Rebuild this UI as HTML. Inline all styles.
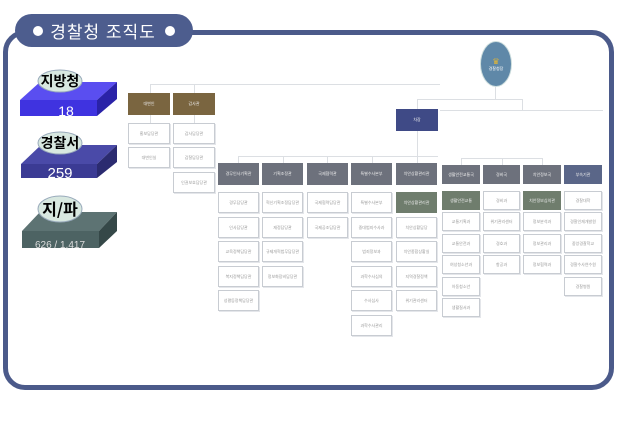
<!DOCTYPE html><html><head><meta charset="utf-8"><style>
body{margin:0;width:619px;height:424px;background:#fff;position:relative;overflow:hidden;font-family:"Liberation Sans","Noto Sans CJK KR",sans-serif}
.a{position:absolute;box-sizing:border-box}
.b{position:absolute;box-sizing:border-box;border:1px solid #c8ccd2;background:#fff;font-size:4px;color:#999;text-align:center;display:flex;align-items:center;justify-content:center;box-shadow:1px 1px 0 #e4e6ea}
.h{position:absolute;box-sizing:border-box;background:#6d717c;color:#eee;font-size:4px;display:flex;align-items:center;justify-content:center}
.l{position:absolute;background:#dcdfe3}
</style></head><body>
<div class="a" style="left:3px;top:30px;width:611px;height:360px;border:5px solid #4b5a8a;border-radius:22px"></div>
<div class="a" style="left:15px;top:14px;width:178px;height:33px;background:#4d5d8e;border-radius:17px;color:#fff;font-size:17px;display:flex;align-items:center;justify-content:center;letter-spacing:1px"><span style="display:inline-block;width:10px;height:10px;background:#fff;border-radius:50%;margin-right:7px"></span>경찰청 조직도<span style="display:inline-block;width:10px;height:10px;background:#fff;border-radius:50%;margin-left:9px"></span></div>
<svg class="a" style="left:0;top:0" width="130" height="260">
<polygon points="20,100 40,82 117,82 97,100" fill="#5a4ef0"/><rect x="20" y="100" width="77" height="16" fill="#3f33e0"/><polygon points="97,100 117,82 117,99 97,116" fill="#2a22a8"/>
<polygon points="21,164 41,145 117,145 97,164" fill="#4a4aa8"/><rect x="21" y="164" width="76" height="14" fill="#3b3b94"/><polygon points="97,164 117,145 117,162 97,178" fill="#2b2b70"/>
<polygon points="22,231 40,212 117,212 99,231" fill="#5d7373"/><rect x="22" y="231" width="77" height="17" fill="#4d6363"/><polygon points="99,231 117,212 117,231 99,248" fill="#354848"/>
<ellipse cx="60" cy="81" rx="22" ry="11" fill="#d8e8e0" stroke="#9ab" /><ellipse cx="60" cy="143" rx="22" ry="11" fill="#d8e8e0" stroke="#9ab"/><ellipse cx="60" cy="209" rx="22" ry="13" fill="#d8e8e0" stroke="#9ab"/>
<text x="60" y="86" font-size="14" font-weight="bold" text-anchor="middle" font-family="Noto Sans CJK KR,sans-serif">지방청</text>
<text x="60" y="148" font-size="14" font-weight="bold" text-anchor="middle" font-family="Noto Sans CJK KR,sans-serif">경찰서</text>
<text x="60" y="215" font-size="16" font-weight="bold" text-anchor="middle" font-family="Noto Sans CJK KR,sans-serif">지/파</text>
<text x="66" y="116" font-size="14" fill="#fff" text-anchor="middle" font-family="Liberation Sans">18</text>
<text x="60" y="178" font-size="15" fill="#fff" text-anchor="middle" font-family="Liberation Sans">259</text>
<text x="60" y="248" font-size="10" fill="#ddd" text-anchor="middle" font-family="Liberation Sans">626 / 1,417</text>
</svg>
<!-- lines -->
<div class="l" style="left:150px;top:84px;width:290px;height:1px"></div>
<div class="l" style="left:150px;top:84px;width:1px;height:9px"></div>
<div class="l" style="left:194px;top:84px;width:1px;height:9px"></div>
<div class="l" style="left:150px;top:115px;width:1px;height:8px"></div>
<div class="l" style="left:194px;top:115px;width:1px;height:8px"></div>
<div class="l" style="left:440px;top:110px;width:163px;height:1px"></div>
<div class="l" style="left:495px;top:86px;width:1px;height:13px"></div>
<div class="l" style="left:417px;top:99px;width:105px;height:1px"></div>
<div class="l" style="left:417px;top:99px;width:1px;height:10px"></div>
<div class="l" style="left:522px;top:99px;width:1px;height:11px"></div>
<div class="l" style="left:417px;top:131px;width:1px;height:32px"></div>
<div class="l" style="left:238px;top:156px;width:200px;height:1px"></div>
<div class="l" style="left:238px;top:156px;width:1px;height:7px"></div>
<div class="l" style="left:283px;top:156px;width:1px;height:7px"></div>
<div class="l" style="left:327px;top:156px;width:1px;height:7px"></div>
<div class="l" style="left:372px;top:156px;width:1px;height:7px"></div>
<div class="l" style="left:461px;top:158px;width:82px;height:1px"></div>
<div class="l" style="left:461px;top:158px;width:1px;height:7px"></div>
<div class="l" style="left:502px;top:158px;width:1px;height:7px"></div>
<div class="l" style="left:542px;top:158px;width:1px;height:7px"></div>
<!-- top -->
<div class="a" style="left:480px;top:41px;width:32px;height:46px;border-radius:50%;background:#5f88a8;border:1px solid #cdd;color:#fff;font-size:4px;display:flex;align-items:center;justify-content:center;flex-direction:column"><span style="color:#e8b830;font-size:8px">♛</span>경찰청장</div>
<div class="h" style="left:396px;top:109px;width:42px;height:22px;background:#3f4a86">차장</div>
<div class="h" style="left:128px;top:93px;width:42px;height:22px;background:#7a6540">대변인</div>
<div class="h" style="left:173px;top:93px;width:42px;height:22px;background:#7a6540">감사관</div>
<div class="b" style="left:128px;top:123px;width:42px;height:21px">홍보담당관</div>
<div class="b" style="left:128px;top:147px;width:42px;height:21px">대변인실</div>
<div class="b" style="left:173px;top:123px;width:42px;height:21px">감사담당관</div>
<div class="b" style="left:173px;top:147px;width:42px;height:21px">감찰담당관</div>
<div class="b" style="left:173px;top:172px;width:42px;height:21px">인권보호담당관</div>
<!-- group A -->
<div class="h" style="left:218px;top:163px;width:41px;height:22px">경무인사기획관</div>
<div class="h" style="left:262px;top:163px;width:41px;height:22px">기획조정관</div>
<div class="h" style="left:307px;top:163px;width:41px;height:22px">국제협력관</div>
<div class="h" style="left:351px;top:163px;width:41px;height:22px">특별수사본부</div>
<div class="h" style="left:396px;top:163px;width:41px;height:22px">치안상황관리관</div>
<div class="b" style="left:218px;top:192px;width:41px;height:21px">경무담당관</div>
<div class="b" style="left:218px;top:217px;width:41px;height:21px">인사담당관</div>
<div class="b" style="left:218px;top:241px;width:41px;height:21px">교육정책담당관</div>
<div class="b" style="left:218px;top:266px;width:41px;height:21px">복지정책담당관</div>
<div class="b" style="left:218px;top:290px;width:41px;height:21px">성평등정책담당관</div>
<div class="b" style="left:262px;top:192px;width:41px;height:21px">혁신기획조정담당관</div>
<div class="b" style="left:262px;top:217px;width:41px;height:21px">재정담당관</div>
<div class="b" style="left:262px;top:241px;width:41px;height:21px">규제개혁법무담당관</div>
<div class="b" style="left:262px;top:266px;width:41px;height:21px">정보화장비담당관</div>
<div class="b" style="left:307px;top:192px;width:41px;height:21px">국제협력담당관</div>
<div class="b" style="left:307px;top:217px;width:41px;height:21px">국제공조담당관</div>
<div class="b" style="left:351px;top:192px;width:41px;height:21px">특별수사본부</div>
<div class="b" style="left:351px;top:217px;width:41px;height:21px">중대범죄수사과</div>
<div class="b" style="left:351px;top:241px;width:41px;height:21px">범죄정보과</div>
<div class="b" style="left:351px;top:266px;width:41px;height:21px">과학수사심의</div>
<div class="b" style="left:351px;top:290px;width:41px;height:21px">수사심사</div>
<div class="b" style="left:351px;top:315px;width:41px;height:21px">과학수사관리</div>
<div class="h" style="left:396px;top:192px;width:41px;height:21px;background:#6f7d6d">치안상황관리관</div>
<div class="b" style="left:396px;top:217px;width:41px;height:21px">치안상황담당</div>
<div class="b" style="left:396px;top:241px;width:41px;height:21px">치안종합상황실</div>
<div class="b" style="left:396px;top:266px;width:41px;height:21px">지역경찰정책</div>
<div class="b" style="left:396px;top:290px;width:41px;height:21px">위기관리센터</div>
<!-- group B -->
<div class="h" style="left:442px;top:165px;width:38px;height:19px">생활안전교통국</div>
<div class="h" style="left:483px;top:165px;width:37px;height:19px">경비국</div>
<div class="h" style="left:523px;top:165px;width:38px;height:19px">치안정보국</div>
<div class="h" style="left:564px;top:165px;width:38px;height:19px;background:#5a6688">부속기관</div>
<div class="h" style="left:442px;top:191px;width:38px;height:19px;background:#6f7d6d">생활안전교통</div>
<div class="b" style="left:442px;top:212px;width:38px;height:19px">교통기획과</div>
<div class="b" style="left:442px;top:234px;width:38px;height:19px">교통안전과</div>
<div class="b" style="left:442px;top:255px;width:38px;height:19px">여성청소년과</div>
<div class="b" style="left:442px;top:277px;width:38px;height:19px">아동청소년</div>
<div class="b" style="left:442px;top:298px;width:38px;height:19px">생활질서과</div>
<div class="b" style="left:483px;top:191px;width:37px;height:19px">경비과</div>
<div class="b" style="left:483px;top:212px;width:37px;height:19px">위기관리센터</div>
<div class="b" style="left:483px;top:234px;width:37px;height:19px">경호과</div>
<div class="b" style="left:483px;top:255px;width:37px;height:19px">항공과</div>
<div class="h" style="left:523px;top:191px;width:38px;height:19px;background:#6f7d6d">치안정보심의관</div>
<div class="b" style="left:523px;top:212px;width:38px;height:19px">정보분석과</div>
<div class="b" style="left:523px;top:234px;width:38px;height:19px">정보관리과</div>
<div class="b" style="left:523px;top:255px;width:38px;height:19px">정보협력과</div>
<div class="b" style="left:564px;top:191px;width:38px;height:19px">경찰대학</div>
<div class="b" style="left:564px;top:212px;width:38px;height:19px">경찰인재개발원</div>
<div class="b" style="left:564px;top:234px;width:38px;height:19px">중앙경찰학교</div>
<div class="b" style="left:564px;top:255px;width:38px;height:19px">경찰수사연수원</div>
<div class="b" style="left:564px;top:277px;width:38px;height:19px">경찰병원</div>
</body></html>
